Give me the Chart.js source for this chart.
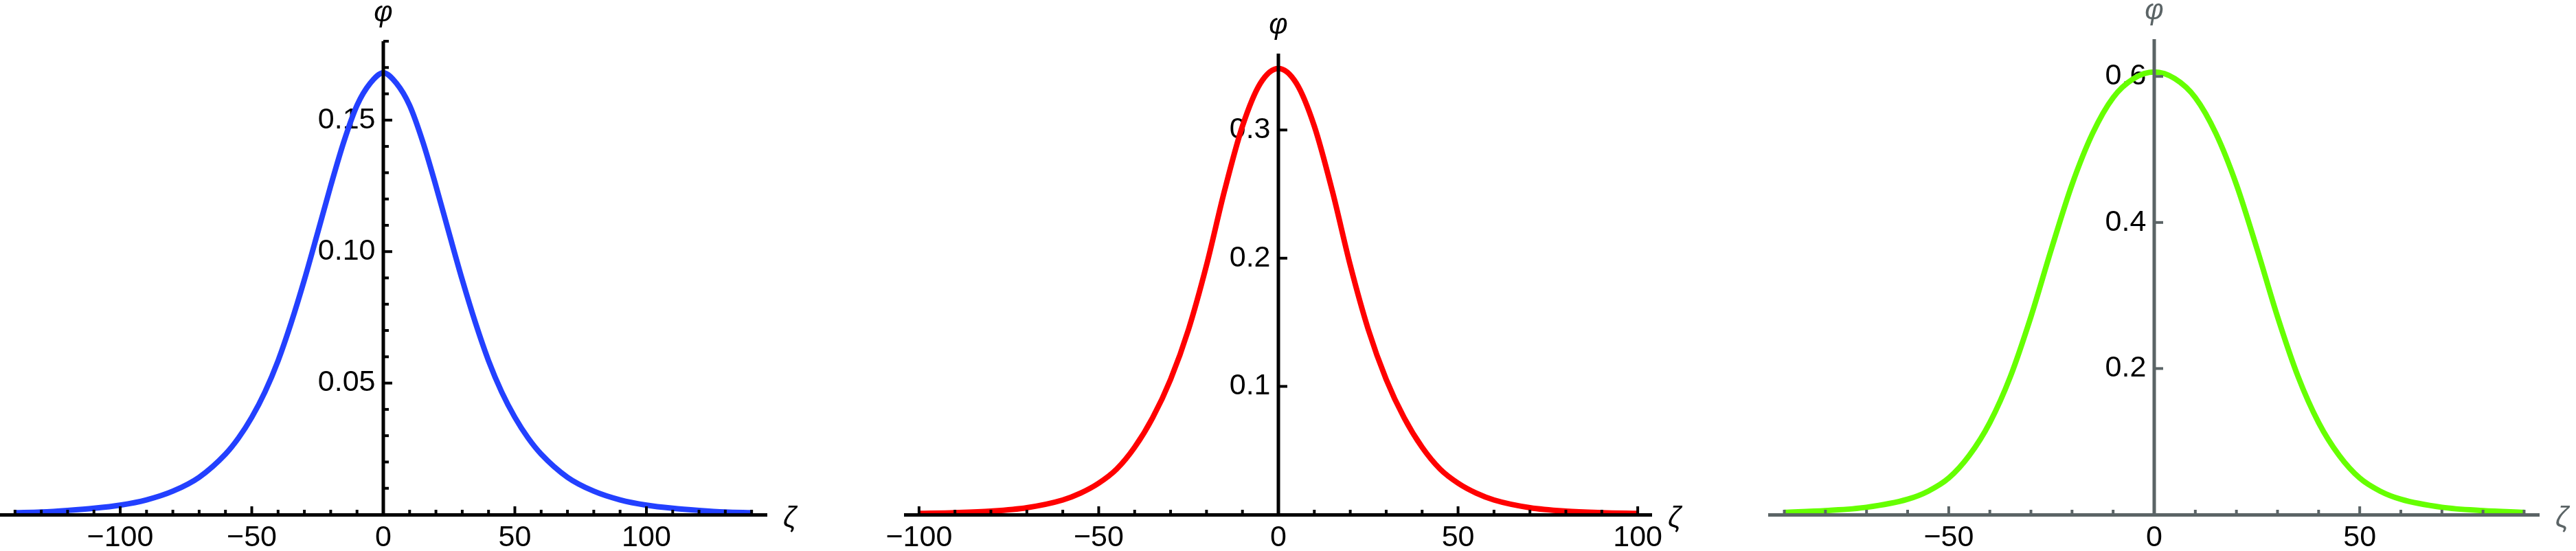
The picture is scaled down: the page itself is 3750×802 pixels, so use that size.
<!DOCTYPE html>
<html>
<head>
<meta charset="utf-8">
<script src="https://cdn.jsdelivr.net/npm/chart.js@4.4.1/dist/chart.umd.min.js"></script>
<style>
  html, body { margin: 0; padding: 0; background: #fff; }
  body { width: 3750px; height: 802px; position: relative; overflow: hidden; }
  .panel { position: absolute; top: 0; width: 1250px; height: 802px; }
</style>
</head>
<body>
<div class="panel" style="left:0px"><canvas id="c1" width="1250" height="802"></canvas></div>
<div class="panel" style="left:1250px"><canvas id="c2" width="1250" height="802"></canvas></div>
<div class="panel" style="left:2500px"><canvas id="c3" width="1250" height="802"></canvas></div>
<script>
// panel 1 (blue)
const zeta1 = [-140,-130,-120,-110,-100,-90,-80,-70,-60,-55,-50,-45,-40,-35,-30,-25,-20,-15,-10,-5,0,
               5,10,15,20,25,30,35,40,45,50,55,60,70,80,90,100,110,120,130,140];
const phi1 = [0.0007,0.0010,0.0016,0.0024,0.0036,0.0056,0.0089,0.0142,0.0230,0.0292,0.0370,0.0466,0.0585,0.0730,0.0893,0.1070,0.1250,0.1418,0.1556,0.1640,0.1680,
              0.1640,0.1556,0.1418,0.1250,0.1070,0.0893,0.0730,0.0585,0.0466,0.0370,0.0292,0.0230,0.0142,0.0089,0.0056,0.0036,0.0024,0.0016,0.0010,0.0007];
const xLabels1 = [-100,-50,0,50,100];
const xMinor1 = [-140,-130,-120,-110,-90,-80,-70,-60,-40,-30,-20,-10,10,20,30,40,60,70,80,90,110,120,130,140];
const yLabels1 = [0.05,0.10,0.15];
const yMinor1 = [0.01,0.02,0.03,0.04,0.06,0.07,0.08,0.09,0.11,0.12,0.13,0.14,0.16,0.17,0.18];

// panel 2 (red)
const zeta2 = [-100,-90,-80,-70,-60,-55,-50,-45,-40,-35,-30,-25,-20,-15,-10,-5,0,
               5,10,15,20,25,30,35,40,45,50,55,60,70,80,90,100];
const phi2 = [0.0009,0.0015,0.0027,0.0054,0.0114,0.0168,0.0245,0.0355,0.0525,0.0755,0.1055,0.1445,0.1945,0.2525,0.3030,0.3365,0.3480,
              0.3365,0.3030,0.2525,0.1945,0.1445,0.1055,0.0755,0.0525,0.0355,0.0245,0.0168,0.0114,0.0054,0.0027,0.0015,0.0009];
const xLabels2 = [-100,-50,0,50,100];
const xMinor2 = [-90,-80,-70,-60,-40,-30,-20,-10,10,20,30,40,60,70,80,90];
const yLabels2 = [0.1,0.2,0.3];
const yMinor2 = [];

// panel 3 (green)
const zeta3 = [-90,-80,-70,-60,-55,-50,-45,-40,-35,-30,-25,-20,-15,-10,-5,0,
               5,10,15,20,25,30,35,40,45,50,55,60,70,80,90];
const phi3 = [0.003,0.0055,0.010,0.021,0.032,0.050,0.081,0.126,0.189,0.271,0.364,0.452,0.522,0.571,0.597,0.606,
              0.597,0.571,0.522,0.452,0.364,0.271,0.189,0.126,0.081,0.050,0.032,0.021,0.010,0.0055,0.003];
const xLabels3 = [-50,0,50];
const xMinor3 = [-90,-80,-70,-60,-40,-30,-20,-10,10,20,30,40,60,70,80,90];
const yLabels3 = [0.2,0.4,0.6];
const yMinor3 = [];

const FONT = '"Liberation Sans", Arial, sans-serif';

// Mathematica-like y axis, inward tick marks and axis symbols
const mmaAxes = {
  id: 'mmaAxes',
  afterDraw(chart, args, o) {
    const {ctx, chartArea, scales: {x, y}} = chart;
    const x0 = x.getPixelForValue(0), y0 = y.getPixelForValue(0);
    ctx.save();
    ctx.strokeStyle = o.axisColor;
    ctx.lineCap = 'butt';
    const seg = (a, b, c, d) => { ctx.beginPath(); ctx.moveTo(a, b); ctx.lineTo(c, d); ctx.stroke(); };
    ctx.lineWidth = 5;
    seg(x0, chartArea.top, x0, y0);
    ctx.lineWidth = 4;
    o.xMajor.forEach(v => { if (v !== 0) { const p = x.getPixelForValue(v); seg(p, y0, p, y0 - 12); } });
    o.xMinor.forEach(v => { const p = x.getPixelForValue(v); seg(p, y0, p, y0 - 7); });
    o.yMajor.forEach(v => { const p = y.getPixelForValue(v); seg(x0, p, x0 + 13, p); });
    o.yMinor.forEach(v => { const p = y.getPixelForValue(v); seg(x0, p, x0 + 8, p); });

    ctx.fillStyle = o.axisColor;
    ctx.font = 'italic 42px ' + FONT;
    ctx.textBaseline = 'alphabetic';
    ctx.textAlign = 'center';
    ctx.fillText('φ', x0, chartArea.top - 29);
    ctx.textAlign = 'left';
    ctx.fillText('ζ', chartArea.right + 24, y0 + 18);
    ctx.restore();
  }
};

function fmtX(v) {
  return v < 0 ? '\u2212' + Math.abs(v) : String(v);
}

function makeChart(id, zeta, phi, cfg) {
  const ctx = document.getElementById(id).getContext('2d');
  return new Chart(ctx, {
    type: 'line',
    plugins: [mmaAxes],
    data: {
      datasets: [{
        data: zeta.map((z, i) => ({x: z, y: phi[i]})),
        borderColor: cfg.color,
        borderWidth: 8,
        pointRadius: 0,
        cubicInterpolationMode: 'monotone',
        fill: false,
        clip: false
      }]
    },
    options: {
      responsive: false,
      animation: false,
      events: [],
      layout: { padding: cfg.padding },
      plugins: {
        legend: { display: false },
        tooltip: { enabled: false },
        mmaAxes: {
          axisColor: cfg.axisColor,
          xMajor: cfg.xLabels, xMinor: cfg.xMinor,
          yMajor: cfg.yLabels, yMinor: cfg.yMinor
        }
      },
      scales: {
        x: {
          type: 'linear',
          min: cfg.xMin, max: cfg.xMax,
          position: { y: 0 },
          afterBuildTicks: s => { s.ticks = cfg.xLabels.map(v => ({value: v})); },
          grid: { display: false, drawTicks: false },
          border: { display: true, color: cfg.axisColor, width: 5, z: 1 },
          ticks: {
            autoSkip: false, maxRotation: 0, padding: 8,
            color: '#000', font: { family: FONT, size: 43 },
            callback: v => fmtX(v)
          }
        },
        y: {
          type: 'linear',
          min: 0, max: cfg.yMax,
          // labels sit a little left of the axis line drawn by the plugin
          position: { x: -cfg.labelGap },
          afterBuildTicks: s => { s.ticks = cfg.yLabels.map(v => ({value: v})); },
          grid: { display: false, drawTicks: false },
          border: { display: false },
          ticks: {
            padding: 0,
            color: '#000', font: { family: FONT, size: 43 },
            callback: v => v.toFixed(cfg.yDigits)
          }
        }
      }
    }
  });
}

makeChart('c1', zeta1, phi1, {
  color: '#2340ff', axisColor: '#000000',
  padding: { left: 0, right: 134, top: 60, bottom: 53 },
  xMin: -145.7, xMax: 145.7, yMax: 0.18, yDigits: 2, labelGap: 3.0,
  xLabels: xLabels1, xMinor: xMinor1, yLabels: yLabels1, yMinor: yMinor1
});
makeChart('c2', zeta2, phi2, {
  color: '#ff0000', axisColor: '#000000',
  padding: { left: 68, right: 96, top: 78, bottom: 53 },
  xMin: -103.8, xMax: 103.8, yMax: 0.3596, yDigits: 1, labelGap: 2.2,
  xLabels: xLabels2, xMinor: xMinor2, yLabels: yLabels2, yMinor: yMinor2
});
makeChart('c3', zeta3, phi3, {
  color: '#66ff00', axisColor: '#5b6466',
  padding: { left: 76, right: 54, top: 57, bottom: 53 },
  xMin: -93.6, xMax: 93.6, yMax: 0.651, yDigits: 1, labelGap: 1.95,
  xLabels: xLabels3, xMinor: xMinor3, yLabels: yLabels3, yMinor: yMinor3
});
</script>
</body>
</html>
